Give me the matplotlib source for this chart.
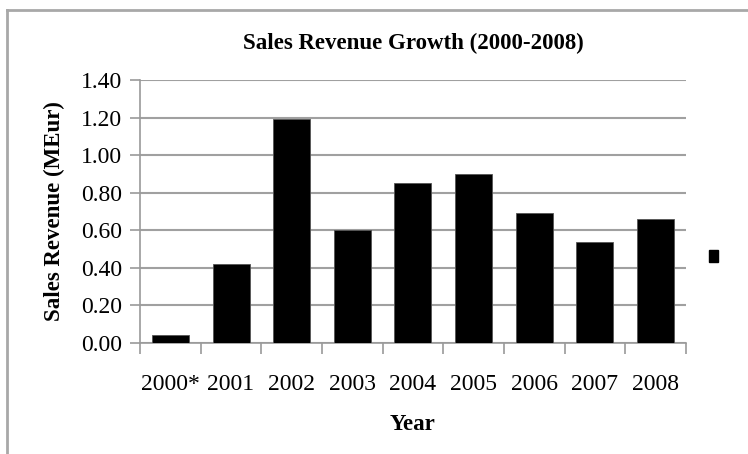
import matplotlib.pyplot as plt
from matplotlib.lines import Line2D
from matplotlib.patches import Patch

# Sales revenue per year, in millions of euro
years = ['2000*', '2001', '2002', '2003', '2004', '2005', '2006', '2007', '2008']
revenue = [0.04, 0.42, 1.19, 0.60, 0.85, 0.90, 0.69, 0.54, 0.66]
yticks = [0.0, 0.2, 0.4, 0.6, 0.8, 1.0, 1.2, 1.4]

plt.rcParams['font.family'] = ['Liberation Serif', 'DejaVu Serif']

fig = plt.figure(figsize=(7.48, 4.54), dpi=100)
ax = fig.add_axes([0.1872, 0.2445, 0.7298, 0.5793])

# chart frame, only left and top edges fall inside the image
fx, fy = 7 / 748, 1 - 10 / 454
fig.add_artist(Line2D([fx, fx], [0, fy], transform=fig.transFigure,
                      color='#a8a8a8', linewidth=2))
fig.add_artist(Line2D([fx, 1], [fy, fy], transform=fig.transFigure,
                      color='#a8a8a8', linewidth=2))

x = list(range(len(years)))
bars = ax.bar(x, revenue, width=0.61, color='black', edgecolor='#555555',
              linewidth=0.6, zorder=3)

ax.set_xlim(-0.5, len(years) - 0.5)
ax.set_ylim(0, 1.4)
ax.set_yticks(yticks)
ax.set_yticklabels(['%.2f' % v for v in yticks])
ax.yaxis.grid(True, color='#a0a0a0', linewidth=1.5, zorder=0)

# category labels sit between boundary ticks
ax.set_xticks([i - 0.5 for i in range(len(years) + 1)])
ax.set_xticklabels([])
ax.set_xticks(x, minor=True)
ax.set_xticklabels(years, minor=True)
ax.tick_params(axis='x', which='major', length=8, width=1.2, color='#9a9a9a')
ax.tick_params(axis='x', which='minor', length=0, pad=22, labelsize=17)
ax.tick_params(axis='y', length=7, width=1.2, color='#9a9a9a', labelsize=17, pad=6)

for side in ['top', 'right']:
    ax.spines[side].set_visible(False)
for side in ['left', 'bottom']:
    ax.spines[side].set_color('#9a9a9a')
    ax.spines[side].set_linewidth(1.2)

ax.set_title('Sales Revenue Growth (2000-2008)', fontsize=16.5,
             fontweight='bold', pad=22)
ax.set_xlabel('Year', fontsize=16.5, fontweight='bold', labelpad=14)
ax.set_ylabel('Sales Revenue (MEur)', fontsize=16.5, fontweight='bold', labelpad=11)

ax.legend(handles=[Patch(facecolor='black', edgecolor='black')], labels=[''],
          loc='center left', bbox_to_anchor=(1.02, 0.327), frameon=False,
          handlelength=0.6, handleheight=0.9, handletextpad=0)

fig.savefig('out.png', dpi=100)
